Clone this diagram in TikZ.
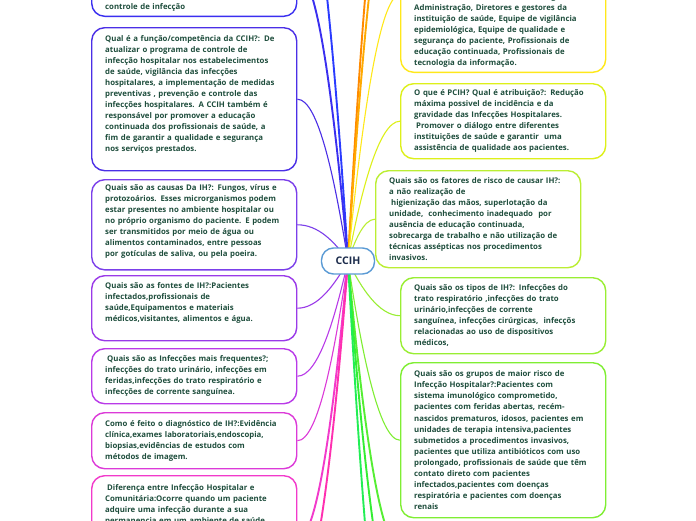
\documentclass[tikz,border=0pt]{standalone}
\usepackage{fontspec}
\setmainfont{Open Sans}
\usetikzlibrary{backgrounds}

\definecolor{qtext}{HTML}{1F4E3D}
\definecolor{roottext}{HTML}{1B2B4B}
\definecolor{rootline}{HTML}{5B9BD5}
\definecolor{cBlue}{HTML}{2A3BFF}
\definecolor{cLa}{HTML}{3A2FF0}
\definecolor{cLb}{HTML}{4B2FE6}
\definecolor{cLc}{HTML}{7B3FEA}
\definecolor{cLd}{HTML}{9A3AE8}
\definecolor{cLe}{HTML}{B93AE8}
\definecolor{cLf}{HTML}{DC3AD8}
\definecolor{cLg}{HTML}{F23ACB}
\definecolor{cPink}{HTML}{FF2FB0}
\definecolor{cOrA}{HTML}{FF8A00}
\definecolor{cOrB}{HTML}{FFAA00}
\definecolor{cRa}{HTML}{FFE81A}
\definecolor{cRb}{HTML}{DDF01A}
\definecolor{cRc}{HTML}{BBEE33}
\definecolor{cRd}{HTML}{99EE33}
\definecolor{cRe}{HTML}{7FEE33}
\definecolor{cGa}{HTML}{55EE33}
\definecolor{cGb}{HTML}{33EE33}
\definecolor{cGc}{HTML}{22EE55}

\newcommand{\qfont}{\bfseries\fontsize{7.8}{11.05}\selectfont}

\tikzset{
    qnode/.style={draw=#1, rounded corners=13pt, line width=1.4pt, fill=white, text=qtext, font=\qfont, align=left, text width=178pt, inner xsep=13.5pt, inner ysep=5pt},
    rootnode/.style={draw=rootline, rounded corners=12pt, line width=1.4pt, fill=white, text=roottext, font=\bfseries\fontsize{10.5}{12}\selectfont, minimum width=53pt, minimum height=26pt, inner sep=0pt},
    branch/.style={draw=#1, line width=1.1pt},
    thickbranch/.style={draw=#1, line width=1.9pt},
}

\begin{document}
\begin{tikzpicture}[x=1pt, y=-1pt]
    \useasboundingbox (0,0) rectangle (696,520);

    % left side
    \node[qnode=cLa, anchor=south west] (controle) at (91,17) {\mbox{}\\[64pt]controle de infecção};
    \node[qnode=cLb, anchor=north west, minimum height=143pt] (funcao) at (91,27) {Qual é a função/competência da CCIH?: De\\ atualizar o programa de controle de\\ infecção hospitalar nos estabelecimentos\\ de saúde, vigilância das infecções\\ hospitalares, a implementação de medidas\\ preventivas , prevenção e controle das\\ infecções hospitalares. A CCIH também é\\ responsável por promover a educação\\ continuada dos profissionais de saúde, a\\ fim de garantir a qualidade e segurança\\ nos serviços prestados.\par\kern10pt};
    \node[qnode=cLc, anchor=north west, minimum height=88pt] (causas) at (91,179) {Quais são as causas Da IH?: Fungos, vírus e\\ protozoários. Esses microrganismos podem\\ estar presentes no ambiente hospitalar ou\\ no próprio organismo do paciente. E podem\\ ser transmitidos por meio de água ou\\ alimentos contaminados, entre pessoas\\ por gotículas de saliva, ou pela poeira.\par\kern6pt};
    \node[qnode=cLd, anchor=north west, minimum height=65pt] (fontes) at (91,275) {Quais são as fontes de IH?:Pacientes\\ infectados,profissionais de\\ saúde,Equipamentos e materiais\\ médicos,visitantes, alimentos e água.\par\kern11pt};
    \node[qnode=cLe, anchor=north west, minimum height=55pt] (frequentes) at (91,348) {\hspace*{2pt}Quais são as Infecções mais frequentes?;\\ infecções do trato urinário, infecções em\\ feridas,infecções do trato respiratório e\\ infecções de corrente sanguínea.};
    \node[qnode=cLf, anchor=north west, minimum height=56pt] (diagnostico) at (91,412) {Como é feito o diagnóstico de IH?:Evidência\\ clínica,exames laboratoriais,endoscopia,\\ biopsias,evidências de estudos com\\ métodos de imagem.};
    \node[qnode=cLg, anchor=north west, inner ysep=9pt] (diferenca) at (91,475) {\hspace*{2pt}Diferença entre Infecção Hospitalar e\\ Comunitária:Ocorre quando um paciente\\ adquire uma infecção durante a sua\\ permanencia em um ambiente de saúde\\[60pt]\mbox{}};

    % right side
    \node[qnode=cRa, anchor=south west] (equipe) at (400,73) {\mbox{}\\[66pt]farmácia,laboratório de microbiologia,\\ Administração, Diretores e gestores da\\ instituição de saúde, Equipe de vigilância\\ epidemiológica, Equipe de qualidade e\\ segurança do paciente, Profissionais de\\ educação continuada, Profissionais de\\ tecnologia da informação.};
    \node[qnode=cRb, anchor=north west, minimum height=75pt] (pcih) at (400,83) {O que é PCIH? Qual é atribuição?: Redução\\ máxima possivel de incidência e da\\ gravidade das Infecções Hospitalares.\\ \hspace*{2pt}Promover o diálogo entre diferentes\\ instituições de saúde e garantir\ \ uma\\ assistência de qualidade aos pacientes.};
    \node[qnode=cRc, anchor=north west, minimum height=97pt] (fatores) at (375,170) {Quais são os fatores de risco de causar IH?:\\ a não realização de\\ \hspace*{2pt}higienização das mãos, superlotação da\\ unidade,\ \ conhecimento inadequado\ \ por\\ ausência de educação continuada,\\ sobrecarga de trabalho e não utilização de\\ técnicas assépticas nos procedimentos\\ invasivos.};
    \node[qnode=cRd, anchor=north west, minimum height=76pt] (tipos) at (400,277) {Quais são os tipos de IH?: Infecções do\\ trato respiratório ,infecções do trato\\ urinário,infecções de corrente\\ sanguínea, infecções cirúrgicas,\ \ infecçõs\\ relacionadas ao uso de dispositivos\\ médicos,};
    \node[qnode=cRe, anchor=north west, minimum height=155pt] (grupos) at (400,362) {Quais são os grupos de maior risco de\\ Infecção Hospitalar?:Pacientes com\\ sistema imunológico comprometido,\\ pacientes com feridas abertas, recém-\\ nascidos prematuros, idosos, pacientes em\\ unidades de terapia intensiva,pacientes\\ submetidos a procedimentos invasivos,\\ pacientes que utiliza antibióticos com uso\\ prolongado, profissionais de saúde que têm\\ contato direto com pacientes\\ infectados,pacientes com doenças\\ respiratória e pacientes com doenças\\ renais};

    % centre
    \node[rootnode] (ccih) at (348,261) {CCIH};

    % free ends of the branches that leave the picture
    \coordinate (blueend) at (296,-150);
    \coordinate (orangeend) at (400,-220);
    \coordinate (amberend) at (400,-150);
    \coordinate (pinkend) at (296,600);
    \coordinate (limeend) at (400,548);
    \coordinate (greenend) at (400,620);
    \coordinate (jadeend) at (400,742);

    \begin{scope}[on background layer]
        \fill[white] (0,0) rectangle (696,520);
        % left
        \draw[thickbranch=cBlue] (ccih.center) .. controls +(-13,-205) and +(21,0) .. (blueend);
        \draw[thickbranch=cLa] (ccih.center) .. controls +(-13,-144) and +(21,0) .. (controle.east);
        \draw[branch=cLb] (ccih.center) .. controls +(-13,-81) and +(21,0) .. (funcao.east);
        \draw[branch=cLc] (ccih.center) .. controls +(-13,-19) and +(21,0) .. (causas.east);
        \draw[branch=cLd] (ccih.center) .. controls +(-13,23) and +(21,0) .. (fontes.east);
        \draw[branch=cLe] (ccih.center) .. controls +(-13,57) and +(21,0) .. (frequentes.east);
        \draw[branch=cLf] (ccih.center) .. controls +(-13,90) and +(21,0) .. (diagnostico.east);
        \draw[thickbranch=cLg] (ccih.center) .. controls +(-13,139) and +(21,0) .. (diferenca.east);
        \draw[thickbranch=cPink] (ccih.center) .. controls +(-13,170) and +(21,0) .. (pinkend);
        % right
        \draw[thickbranch=cOrA] (ccih.center) .. controls +(13,-240) and +(-21,0) .. (orangeend);
        \draw[thickbranch=cOrB] (ccih.center) .. controls +(13,-205) and +(-21,0) .. (amberend);
        \draw[branch=cRa] (ccih.center) .. controls +(13,-133) and +(-21,0) .. (equipe.west);
        \draw[branch=cRb] (ccih.center) .. controls +(13,-70) and +(-21,0) .. (pcih.west);
        \draw[branch=cRc] (ccih.center) .. controls +(7,-21) and +(-11,0) .. (fatores.west);
        \draw[branch=cRd] (ccih.center) .. controls +(13,27) and +(-21,0) .. (tipos.west);
        \draw[branch=cRe] (ccih.center) .. controls +(13,89) and +(-21,0) .. (grupos.west);
        \draw[thickbranch=cGa] (ccih.center) .. controls +(13,143) and +(-21,0) .. (limeend);
        \draw[thickbranch=cGb] (ccih.center) .. controls +(13,180) and +(-21,0) .. (greenend);
        \draw[thickbranch=cGc] (ccih.center) .. controls +(13,240) and +(-21,0) .. (jadeend);
    \end{scope}
\end{tikzpicture}
\end{document}
